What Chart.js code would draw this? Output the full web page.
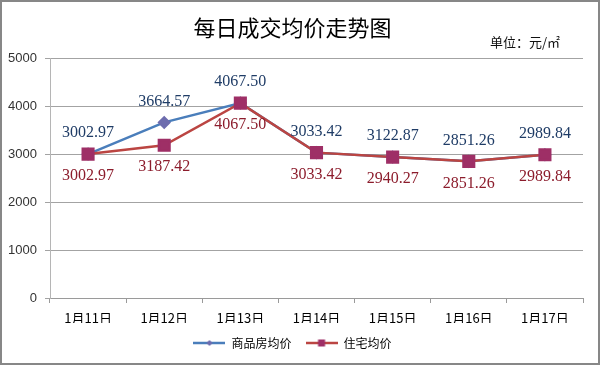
<!DOCTYPE html>
<html>
<head>
<meta charset="utf-8">
<script src="https://cdn.jsdelivr.net/npm/chart.js@4.4.1/dist/chart.umd.min.js"></script>
<style>
  html, body { margin: 0; padding: 0; background: #fff; }
  #box { width: 596px; height: 361px; border: 2px solid #878787; }
  canvas { display: block; }
</style>
</head>
<body>
<div id="box"><canvas id="priceChart" width="596" height="361"></canvas></div>
<script>
const days = ['1月11日', '1月12日', '1月13日', '1月14日', '1月15日', '1月16日', '1月17日'];
// 商品房均价 (the 1月15日 point sits on the red line though its label reads 3122.87)
const commercialPrice = [3002.97, 3664.57, 4067.50, 3033.42, 2940.27, 2851.26, 2989.84];
const commercialLabels = ['3002.97', '3664.57', '4067.50', '3033.42', '3122.87', '2851.26', '2989.84'];
// 住宅均价
const residentialPrice = [3002.97, 3187.42, 4067.50, 3033.42, 2940.27, 2851.26, 2989.84];
const residentialLabels = residentialPrice.map(v => v.toFixed(2));
const yMin = 0, yMax = 5000, yStep = 1000;

const CJK = '"Noto Sans CJK SC", sans-serif';

// little line+marker icons for the legend
function legendIcon(lineColor, markerColor, shape) {
  const c = document.createElement('canvas');
  c.width = 32; c.height = 12;
  const g = c.getContext('2d');
  g.strokeStyle = lineColor;
  g.lineWidth = 2.5;
  g.beginPath(); g.moveTo(0, 6); g.lineTo(32, 6); g.stroke();
  g.fillStyle = markerColor;
  if (shape === 'diamond') {
    g.beginPath(); g.moveTo(16, 3); g.lineTo(19, 6); g.lineTo(16, 9); g.lineTo(13, 6); g.closePath(); g.fill();
  } else {
    g.fillRect(12.5, 2.5, 7, 7);
  }
  return c;
}

const pointLabels = {
  id: 'pointLabels',
  afterDatasetsDraw(chart) {
    const ctx = chart.ctx;
    ctx.save();
    ctx.font = '16px "Liberation Serif", serif';
    ctx.textAlign = 'center';
    ctx.textBaseline = 'middle';
    chart.data.datasets.forEach((ds, i) => {
      chart.getDatasetMeta(i).data.forEach((pt, j) => {
        ctx.fillStyle = ds.labelColor;
        ctx.fillText(ds.labelText[j], pt.x, pt.y + ds.labelOffset);
      });
    });
    ctx.restore();
  },
  afterDraw(chart) {
    const ctx = chart.ctx;
    ctx.save();
    ctx.font = '13px ' + CJK;
    ctx.fillStyle = '#111';
    ctx.textAlign = 'right';
    ctx.textBaseline = 'middle';
    ctx.fillText('单位：元/㎡', 558, 40);
    ctx.restore();
  }
};

new Chart(document.getElementById('priceChart'), {
  type: 'line',
  data: {
    labels: days,
    datasets: [
      {
        label: '商品房均价',
        data: commercialPrice,
        borderColor: '#4a7ebb',
        borderWidth: 2.5,
        pointStyle: 'rectRot',
        pointRadius: 5,
        pointBackgroundColor: '#6d6cae',
        pointBorderColor: '#6d6cae',
        order: 1,
        labelText: commercialLabels,
        labelColor: '#1f3c66',
        labelOffset: -21,
        legendIcon: legendIcon('#4a7ebb', '#6d6cae', 'diamond')
      },
      {
        label: '住宅均价',
        data: residentialPrice,
        borderColor: '#bb4542',
        borderWidth: 2.5,
        pointStyle: 'rect',
        pointRadius: 7.5,
        pointBackgroundColor: '#9e2f66',
        pointBorderColor: '#9e2f66',
        order: 0,
        labelText: residentialLabels,
        labelColor: '#8c1c2c',
        labelOffset: 22,
        legendIcon: legendIcon('#bb4542', '#9e2f66', 'square')
      }
    ]
  },
  options: {
    responsive: false,
    animation: false,
    layout: { padding: { left: 0, right: 15, top: 0, bottom: 4 } },
    plugins: {
      tooltip: { enabled: false },
      title: {
        display: true,
        text: '每日成交均价走势图',
        color: '#000',
        font: { family: CJK, size: 22, weight: 'normal' },
        padding: { top: 12, bottom: 18 }
      },
      legend: {
        position: 'bottom',
        labels: {
          usePointStyle: true,
          pointStyleWidth: 32,
          boxHeight: 12,
          padding: 14,
          color: '#000',
          font: { family: CJK, size: 12 },
          sort: (a, b) => a.datasetIndex - b.datasetIndex,
          generateLabels(chart) {
            return Chart.defaults.plugins.legend.labels.generateLabels(chart).map(item => {
              item.pointStyle = chart.data.datasets[item.datasetIndex].legendIcon;
              return item;
            });
          }
        }
      }
    },
    scales: {
      x: {
        offset: true,
        grid: { offset: true, drawOnChartArea: false, tickLength: 5, color: '#9a9a9a' },
        border: { color: '#9a9a9a' },
        ticks: { padding: 7, color: '#000', font: { family: CJK, size: 13 } },
        afterFit(scale) { scale.height = 25; }
      },
      y: {
        min: yMin,
        max: yMax,
        grid: { color: '#a3a3a3', tickLength: 5 },
        border: { color: '#b5b5b5' },
        ticks: {
          stepSize: yStep,
          padding: 8,
          color: '#333',
          font: { family: '"Liberation Sans", sans-serif', size: 13 },
          callback: v => String(v)
        },
        afterFit(scale) { scale.width = 48; }
      }
    }
  },
  plugins: [pointLabels]
});
</script>
</body>
</html>
